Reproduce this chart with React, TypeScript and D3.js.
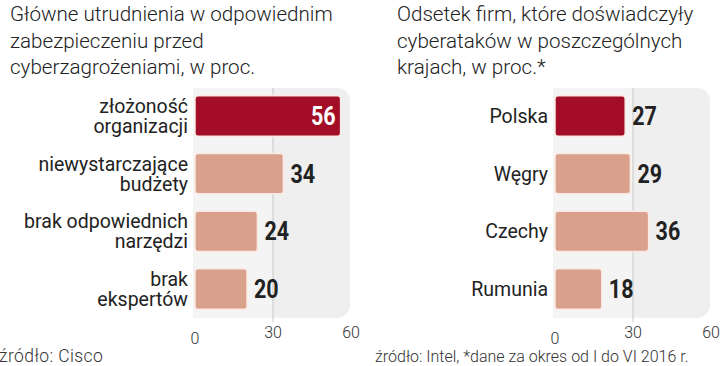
import React from "react";
import * as d3 from "d3";

const leftTitle = ["Główne utrudnienia w odpowiednim", "zabezpieczeniu przed", "cyberzagrożeniami, w proc."];
const rightTitle = ["Odsetek firm, które doświadczyły", "cyberataków w poszczególnych", "krajach, w proc.*"];

const leftCategories = [["złożoność", "organizacji"], ["niewystarczające", "budżety"], ["brak odpowiednich", "narzędzi"], ["brak", "ekspertów"]];
const leftValues = [56, 34, 24, 20];
const rightCategories = [["Polska"], ["Węgry"], ["Czechy"], ["Rumunia"]];
const rightValues = [27, 29, 36, 18];
const ticks = [0, 30, 60];
const leftSource = "źródło: Cisco";
const rightSource = "źródło: Intel, *dane za okres od I do VI 2016 r.";

const DARK = "#a30d28";
const LIGHT = "#d9a08b";
const TEXT = "#222";

function Panel({ x0, titleX, titleSize, title, cats, values, source, sourceX, sourceSize, sourceSpacing }: any) {
  const x = d3.scaleLinear().domain([0, 60]).range([x0, x0 + 156]);
  const y = d3.scaleBand<number>().domain(d3.range(values.length)).range([86, 319]).paddingInner(0.3).paddingOuter(0.17);
  const labelFont = "Roboto, 'Noto Sans', sans-serif";
  return (
    <g>
      <text fontFamily={labelFont} fontWeight={300} fontSize={titleSize} fill="#222">
        {title.map((t: string, i: number) => (
          <tspan key={i} x={titleX} y={21 + i * 26.5}>{t}</tspan>
        ))}
      </text>
      <rect x={x0 - 2} y={88} width={x(60) - x0 + 1} height={230} rx={13} fill="#efefef" />
      <rect x={x0 - 2} y={88} width={x(30) - x0 + 2} height={230} fill="#f4f4f4" />
      <line x1={x(30)} x2={x(30)} y1={88} y2={322} stroke="#c8c8c8" strokeWidth={1} />
      {values.map((v: number, i: number) => {
        const cy = (y(i) as number) + y.bandwidth() / 2;
        const lines = cats[i];
        const inside = v > 50;
        const tx = inside ? x(v) - 5 : x(v) + 7;
        return (
          <g key={i}>
            <rect x={x(0)} y={y(i)} width={x(v) - x(0)} height={y.bandwidth()} rx={3} fill={i === 0 ? DARK : LIGHT} stroke="#fbe9e3" strokeWidth={1.5} />
            <text textAnchor="end" fontFamily={labelFont} fontSize={19.5} fill={TEXT}>
              {lines.map((l: string, j: number) => (
                <tspan key={j} x={x(0) - 7} y={cy + (j - (lines.length - 1) / 2) * 20 + 7}>{l}</tspan>
              ))}
            </text>
            <text transform={`translate(${tx},${cy + 9}) scale(0.86,1)`} textAnchor={inside ? "end" : "start"} fontFamily={labelFont} fontWeight={700} fontSize={25} fill={inside ? "#fff" : TEXT}>{v}</text>
          </g>
        );
      })}
      {ticks.map((t: number) => (
        <text key={t} x={x(t)} y={t === 0 ? 344 : 338} textAnchor="middle" fontFamily={labelFont} fontWeight={300} fontSize={16} fill="#333">{t}</text>
      ))}
      <text x={sourceX} y={362} fontFamily={labelFont} fontWeight={300} fontSize={sourceSize} letterSpacing={sourceSpacing} fill="#333">{source}</text>
    </g>
  );
}

export default function App() {
  return (
    <svg width={720} height={366} style={{ position: "absolute", left: 0, top: 0, background: "#fff" }}>
      <rect width={720} height={366} fill="#fff" />
      <Panel x0={195} titleX={10} titleSize={20.6} title={leftTitle} cats={leftCategories} values={leftValues} source={leftSource} sourceX={-1} sourceSize={17.5} sourceSpacing={0.4} />
      <Panel x0={555} titleX={397} titleSize={20.6} title={rightTitle} cats={rightCategories} values={rightValues} source={rightSource} sourceX={375} sourceSize={16} sourceSpacing={0} />
    </svg>
  );
}
